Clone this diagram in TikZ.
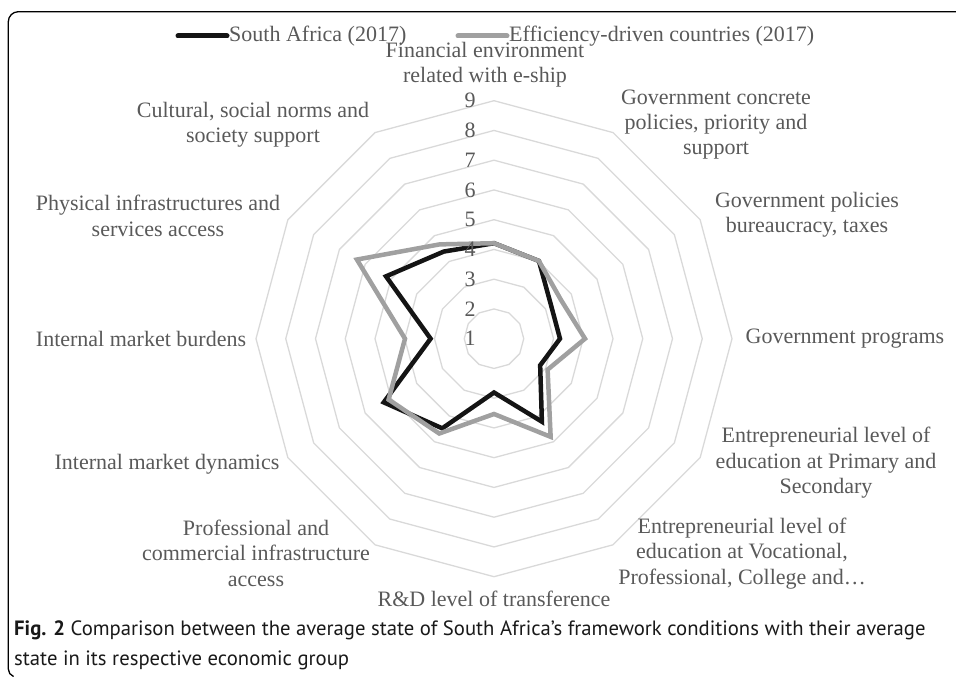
\documentclass[tikz,border=0pt]{standalone}
\usepackage{fontspec}
\setmainfont{Liberation Serif}
\newfontfamily\capfont{PT Sans}
\usetikzlibrary{calc}
\definecolor{lbl}{RGB}{89,89,89}
\definecolor{gridc}{RGB}{217,217,217}
\definecolor{serb}{RGB}{160,160,160}
\definecolor{sera}{RGB}{20,20,20}
\begin{document}
\begin{tikzpicture}[x=1pt,y=1pt,
  lab/.style={text=lbl, font=\fontsize{22}{25.4}\selectfont, align=center, inner sep=0pt},
  ring/.style={draw=gridc, line width=1.3pt},
  serA/.style={draw=sera, line width=4.5pt, line join=miter},
  serB/.style={draw=serb, line width=4.5pt, line join=miter},
  legline/.style={line width=5pt, line cap=round},
]
\useasboundingbox (0,0) rectangle (956,-677);
% frame
\draw[line width=1.3pt] (960,-11.7) -- (18.3,-11.7) arc[start angle=90,end angle=180,radius=10] -- (8.3,-669) arc[start angle=180,end angle=250,radius=8];
\coordinate (C) at (494,-338.7);
% rings
\foreach \k in {1,...,8}{
  \pgfmathsetmacro\r{29.75*\k}
  \draw[ring, shift={(C)}] (90:\r) \foreach \a in {60,30,...,-240}{ -- (\a:\r) } -- cycle;
}
% series
\draw[serA, shift={(C)}] (90:95.5) -- (60:89.8) -- (30:66.0) -- (0:66.0) -- (-30:53.3) -- (-60:95.8) -- (-90:53.8) -- (-120:103.5) -- (-150:127.3) -- (-180:63.4) -- (-210:124.7) -- (-240:100.6) -- cycle;
\draw[serB, shift={(C)}] (90:95.5) -- (60:89.8) -- (30:77.4) -- (0:91.0) -- (-30:61.9) -- (-60:113.3) -- (-90:75.3) -- (-120:109.5) -- (-150:121.7) -- (-180:89.0) -- (-210:158.3) -- (-240:108.9) -- cycle;
% axis numbers
\foreach \k in {1,...,9}{
  \node[lab] (n\k) at (470,{-338.7+(\k-1)*29.75}) {\k};
}
% category labels
\node[lab] (l0) at (485,-65) {Financial environment\\related with e-ship};
\node[lab] (l1) at (716,-124.5) {Government concrete\\policies, priority and\\support};
\node[lab] (l2) at (807,-215) {Government policies\\bureaucracy, taxes};
\node[lab] (l3) at (845,-338.7) {Government programs};
\node[lab] (l4) at (826,-463) {Entrepreneurial level of\\education at Primary and\\Secondary};
\node[lab] (l5) at (742,-553.5) {Entrepreneurial level of\\education at Vocational,\\Professional, College and…};
\node[lab] (l6) at (494,-599) {R\&D level of transference};
\node[lab] (l7) at (256,-553) {Professional and\\commercial infrastructure\\access};
\node[lab] (l8) at (167,-464) {Internal market dynamics};
\node[lab] (l9) at (141,-339) {Internal market burdens};
\node[lab] (l10) at (158,-216) {Physical infrastructures and\\services access};
\node[lab] (l11) at (253,-124.5) {Cultural, social norms and\\society support};
% legend
\coordinate (a1) at (178,-36); \coordinate (a2) at (227,-36);
\draw[legline, sera] (a1) -- (a2);
\node[lab, anchor=west] (t1) at (229,-36) {South Africa (2017)};
\coordinate (b1) at (458,-36); \coordinate (b2) at (507,-36);
\draw[legline, serb] (b1) -- (b2);
\node[lab, anchor=west] (t2) at (509,-36) {Efficiency-driven countries (2017)};
% caption
\node[anchor=north west, inner sep=0pt, align=left, font=\capfont\fontsize{20.7}{29.5}\selectfont, text=black!90] (cap) at (14,-621) {\textbf{Fig. 2} Comparison between the average state of South Africa’s framework conditions with their average\\state in its respective economic group};
\end{tikzpicture}
\end{document}
